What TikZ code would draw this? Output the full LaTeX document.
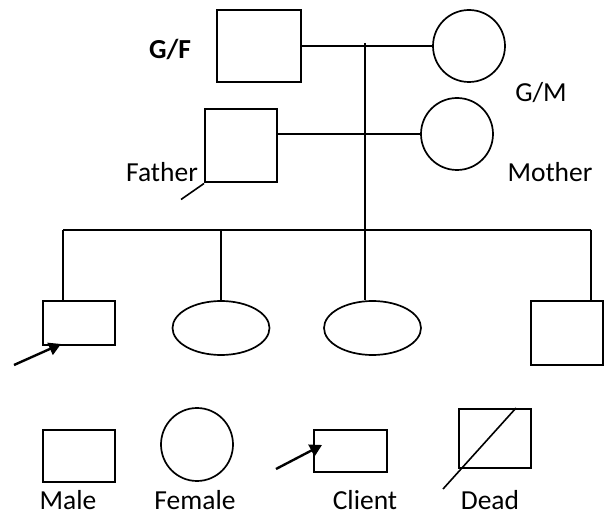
\documentclass[tikz,border=0pt]{standalone}
\usepackage{fontspec}
\setmainfont{Carlito}
\usepackage{tikz}
\usetikzlibrary{shapes.geometric,arrows.meta}
\tikzset{
  % --- family members --------------------------------------------------------
  male/.style={rectangle,draw,line width=2pt,inner sep=0pt},
  female/.style={ellipse,draw,line width=1.7pt,inner sep=0pt},
  % --- lines ------------------------------------------------------------------
  link/.style={line width=2pt},
  ptr/.style={line width=2.4pt,-{Triangle[length=12pt,width=13pt]}},
  lab/.style={anchor=base,inner sep=0pt,font=\fontsize{27.5}{30}\selectfont},
}

\begin{document}
\begin{tikzpicture}[x=1pt, y=-1pt]
  \useasboundingbox (0,0) rectangle (606,516);
  % --- grandparents -----------------------------------------------------
  \node[male,minimum width=84pt,minimum height=72pt]   (gf) at (259,46)  {};
  \node[female,minimum width=72pt,minimum height=72pt] (gm) at (469,46)  {};
  % --- parents ----------------------------------------------------------
  \node[male,minimum width=72pt,minimum height=73pt]   (fa) at (241,146) {};
  \node[female,minimum width=72pt,minimum height=72pt] (mo) at (457,134) {};

  \node[lab,font=\bfseries\fontsize{27.5}{30}\selectfont] (lgf) at (170,59) {G/F};
  \node[lab] (lgm) at (541,102) {G/M};
  \node[lab] (lfa) at (162,182) {Father};
  \node[lab] (lmo) at (550,182) {Mother};

  % --- children ---------------------------------------------------------
  \node[male,minimum width=72pt,minimum height=44pt]   (c1) at (79,323)    {};
  \node[female,minimum width=97pt,minimum height=54pt] (c2) at (221,328)   {};
  \node[female,minimum width=97pt,minimum height=54pt] (c3) at (372.5,328) {};
  \node[male,minimum width=72pt,minimum height=64pt]   (c4) at (567,333)   {};

  \coordinate (top) at (365,43);
  \coordinate (sL)  at (63,230);
  \coordinate (sR)  at (591,230);
  \coordinate (ca)  at (14,365);

  \draw[link] (gf) -- (gm);
  \draw[link] (mo -| fa.east) -- (mo);
  \draw[link] (top) -- (top |- c3.north);
  \draw[link] (sL) -- (sR);
  \draw[link] (sL) -- (sL |- c1.north);
  \draw[link] (c2.north |- sL) -- (c2.north);
  \draw[link] (sR) -- (sR |- c4.north);
  % the father is dead
  \draw[line width=1.6pt] (fa.south west) -- ++(-23,16);
  % the client
  \draw[ptr] (ca) -- ([shift={(19,-2)}]c1.south west);

  % --- legend -------------------------------------------------------------
  \node[male,minimum width=72pt,minimum height=52pt]     (km) at (79,456)    {};
  \node[female,minimum width=72pt,minimum height=73pt]   (kf) at (197,444.5) {};
  \node[male,minimum width=73pt,minimum height=42pt]     (kc) at (350.5,451) {};
  \node[male,minimum width=72pt,minimum height=59pt]     (kd) at (495,438.5) {};
  \coordinate (kca) at (276,469);
  \coordinate (kdl) at (443,489);

  \draw[ptr] (kca) -- ([shift={(9,-6)}]kc.west);
  \draw[line width=1.6pt] ([xshift=-16pt]kd.north east) -- (kdl);

  \node[lab] (lkm) at (68,509)  {Male};
  \node[lab] (lkf) at (195,509) {Female};
  \node[lab] (lkc) at (365,509) {Client};
  \node[lab] (lkd) at (490,509) {Dead};
\end{tikzpicture}
\end{document}
